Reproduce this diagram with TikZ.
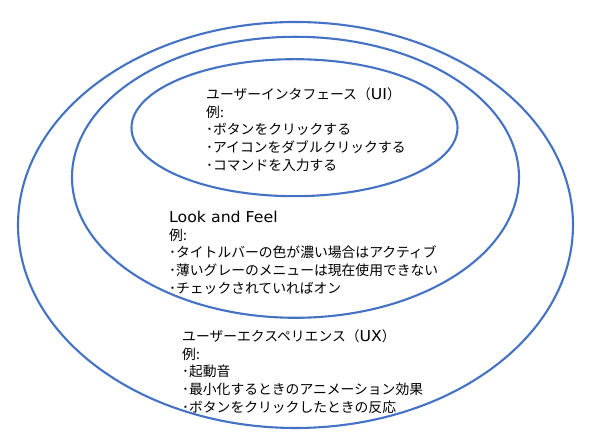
\documentclass[tikz,border=0pt]{standalone}
\usepackage{fontspec}
\setmainfont{Noto Sans CJK JP}
\newfontfamily\latinfont[FakeStretch=1.05]{DejaVu Sans}
\newcommand{\lat}[1]{{\latinfont\fontsize{15pt}{17.6pt}\selectfont #1}}
\newcommand{\firstline}{\rule{0pt}{13pt}}
\usetikzlibrary{shapes.geometric}
\definecolor{ringblue}{HTML}{4472C4}
\tikzset{
  ring/.style={draw=ringblue, line width=2.1pt, ellipse, inner sep=0pt},
  label/.style={anchor=north west, inner sep=0pt, align=left,
    font=\fontsize{13.8pt}{17.6pt}\selectfont}
}
\begin{document}
\begin{tikzpicture}[x=1pt,y=1pt]
\useasboundingbox (0,0) rectangle (590,435);
\fill[white] (0,0) rectangle (590,435);
\node[ring, minimum width=555pt, minimum height=406pt] (ux) at (295.5,210) {};
\node[ring, minimum width=447pt, minimum height=281pt] (lf) at (295.5,257.7) {};
\node[ring, minimum width=326pt, minimum height=137pt] (ui) at (294.5,307.3) {};
\node[label] (uitext) at (206,348.5) {\firstline ユーザーインタフェース（\lat{UI}）\\例:\\･ボタンをクリックする\\･アイコンをダブルクリックする\\･コマンドを入力する};
\node[label] (lftext) at (169,225.5) {\firstline\lat{Look and Feel}\\例:\\･タイトルバーの色が濃い場合はアクティブ\\･薄いグレーのメニューは現在使用できない\\･チェックされていればオン};
\node[label] (uxtext) at (182,106.5) {\firstline ユーザーエクスペリエンス（\lat{UX}）\\例:\\･起動音\\･最小化するときのアニメーション効果\\･ボタンをクリックしたときの反応};
\end{tikzpicture}
\end{document}
